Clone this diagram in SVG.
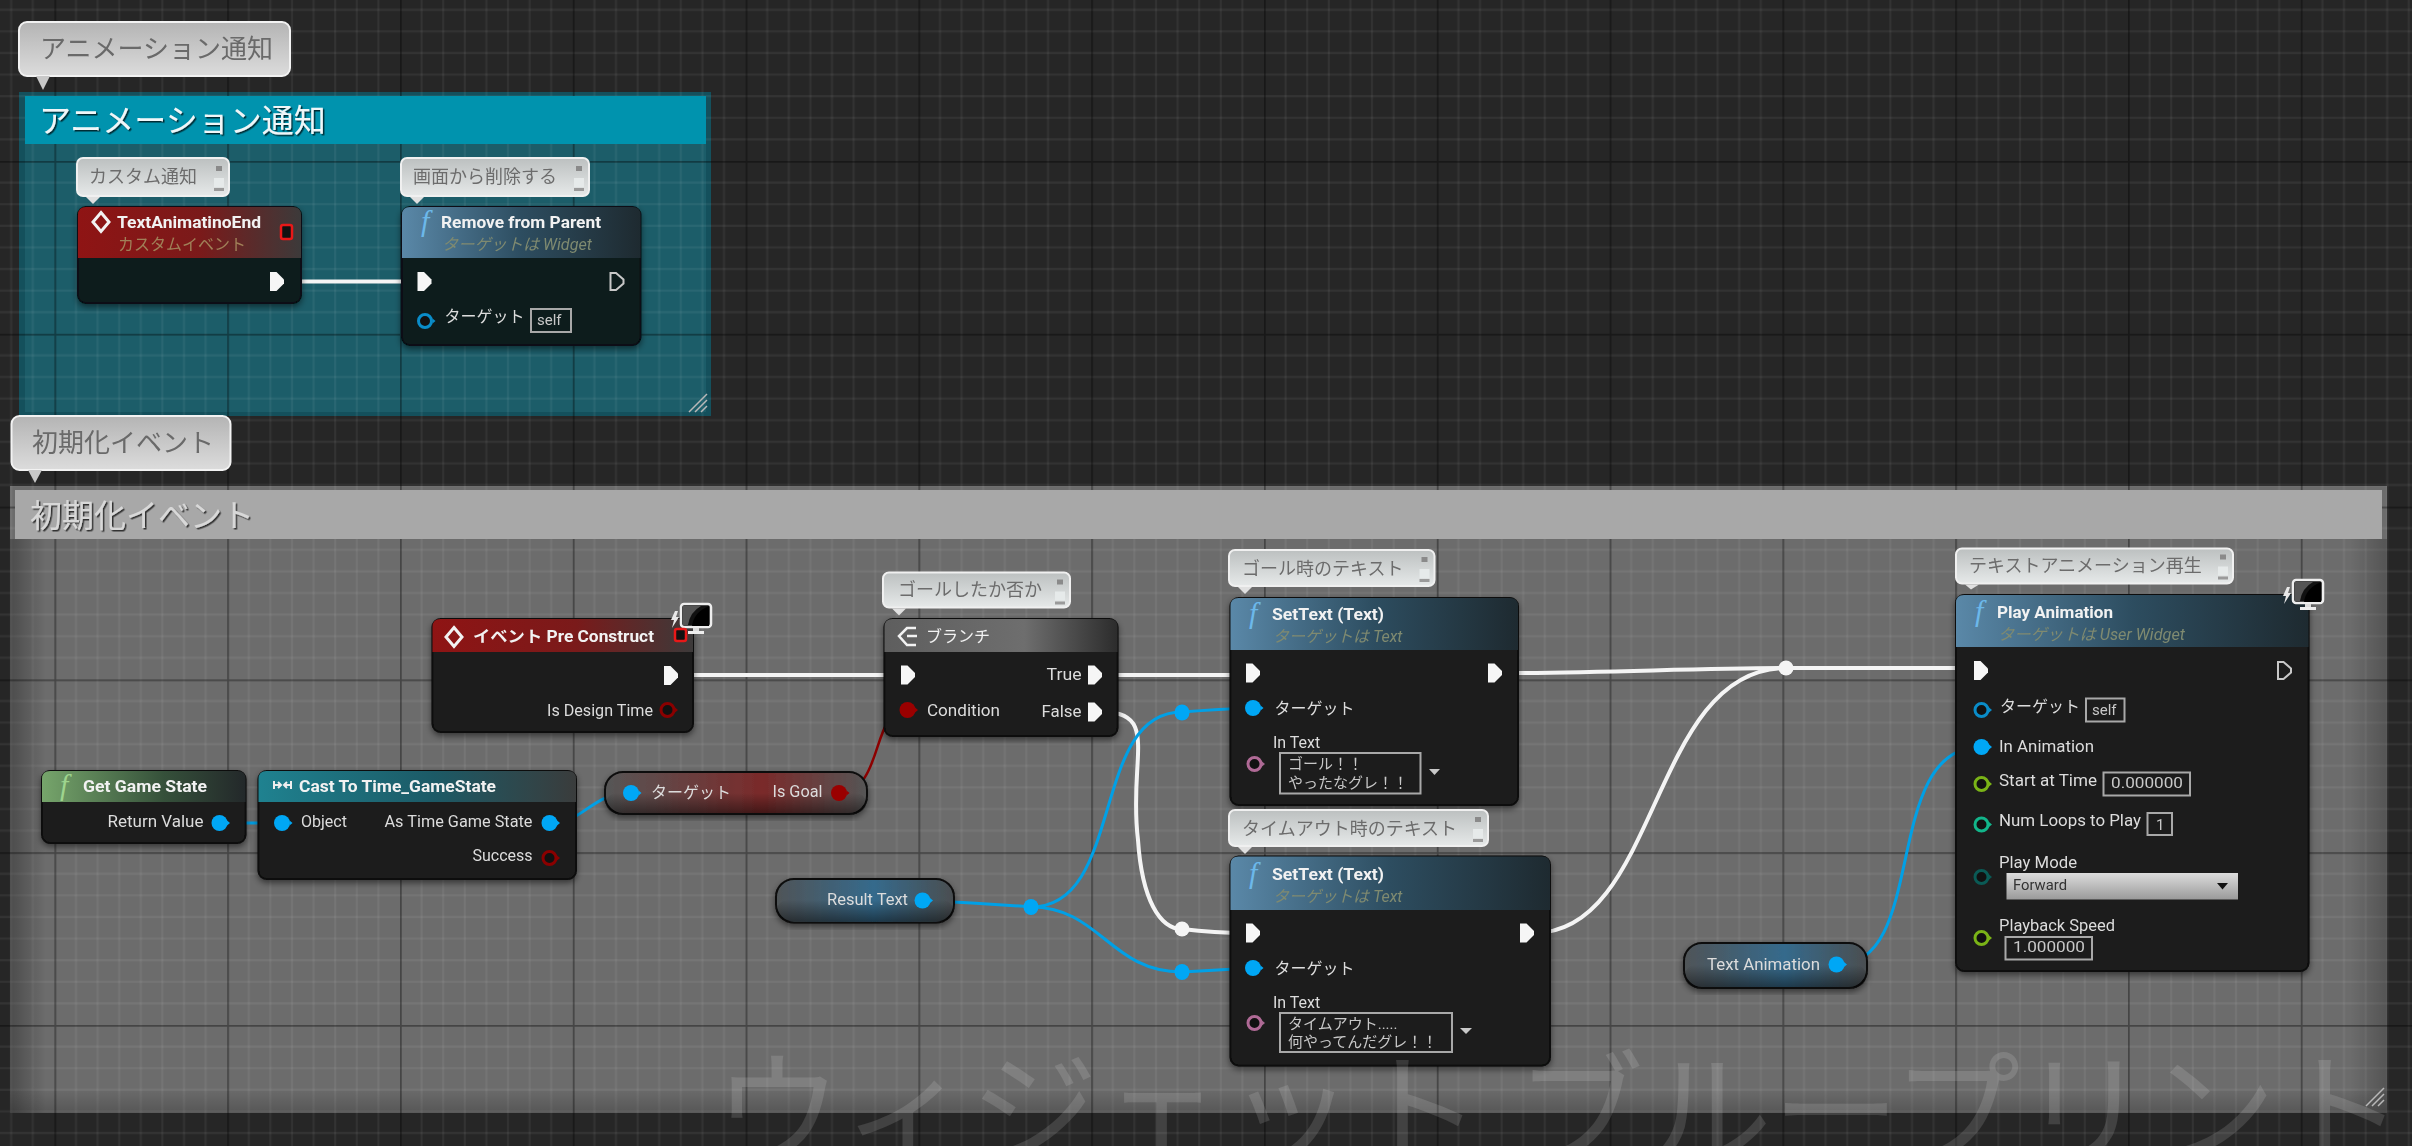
<svg xmlns="http://www.w3.org/2000/svg" width="2412" height="1146" viewBox="0 0 2412 1146">
<style>
text{font-family:"Roboto","Noto Sans CJK JP",sans-serif;white-space:pre}
.t,.s,.sr,.p,.v,.c,.gl{filter:url(#soft)}
.t{font-size:16px;font-weight:700;fill:#f2f2f2}
.s{font-size:16px;font-style:italic;fill:#7f8a70}
.sr{font-size:16px;fill:#a08058}
.p{font-size:16px;fill:#dcdcdc}
.v{font-size:15px;fill:#c8c8c8}
.c{font-size:18px;fill:#6c6c6c;font-family:"Noto Sans CJK JP","Roboto",sans-serif}
.gl{font-size:26px;fill:#6a6a6a;font-family:"Noto Sans CJK JP",sans-serif}
.gh{font-size:32px;font-family:"Noto Sans CJK JP",sans-serif}
.body{fill:#1d1f1d;stroke:#0a0a0a;stroke-width:2;filter:url(#sh)}
.body2{fill:#0f1c1e;stroke:#071012;stroke-width:2;filter:url(#sh)}
.box{fill:none;stroke:#a8a8a8;stroke-width:2}
.bub{fill:url(#gBub);stroke:#f0f0f0;stroke-width:2}
.tail{fill:#e0e0e0}
.ww{fill:none;stroke:#f4f4f4;stroke-width:4;stroke-linecap:round}
.wb{fill:none;stroke:#00a0e6;stroke-width:3;stroke-linecap:round}
.wr{fill:none;stroke:#8c0000;stroke-width:2.5;stroke-linecap:round}
.wm{font-size:128px;fill:#fff;fill-opacity:.13;font-family:"Noto Sans CJK JP",sans-serif}
.knw{fill:#f4f4f4}
.knb{fill:#00a7f5}
.fn{font-size:30px;font-style:italic;font-family:"Liberation Serif",serif;fill:#6cb8ea}
</style>
<defs>
<pattern id="grid" patternUnits="userSpaceOnUse" x="54.4" y="161" width="172.8" height="172.8">
<g stroke="#fff" stroke-opacity=".06" stroke-width="2" fill="none">
<path d="M21.6 0V172.8M43.2 0V172.8M64.8 0V172.8M86.4 0V172.8M108 0V172.8M129.6 0V172.8M151.2 0V172.8"/>
<path d="M0 21.6H172.8M0 43.2H172.8M0 64.8H172.8M0 86.4H172.8M0 108H172.8M0 129.6H172.8M0 151.2H172.8"/>
</g>
<path d="M0 0V172.8M0 0H172.8" stroke="#000" stroke-opacity=".36" stroke-width="3.5" fill="none"/>
</pattern>
<linearGradient id="gBub" x1="0" y1="0" x2="0" y2="1"><stop offset="0" stop-color="#bcc0c0"/><stop offset="1" stop-color="#e6e9e9"/></linearGradient>
<linearGradient id="gLab" x1="0" y1="0" x2="0" y2="1"><stop offset="0" stop-color="#b4b4b4"/><stop offset="1" stop-color="#dcdcdc"/></linearGradient>
<linearGradient id="gRed"><stop offset="0" stop-color="#8f1414"/><stop offset=".55" stop-color="#7a1a1a"/><stop offset="1" stop-color="#3c3a3a"/></linearGradient>
<linearGradient id="gBlue"><stop offset="0" stop-color="#5a88a8"/><stop offset=".5" stop-color="#2d4d60"/><stop offset="1" stop-color="#1e2a30"/></linearGradient>
<linearGradient id="gGreen"><stop offset="0" stop-color="#76a56b"/><stop offset=".6" stop-color="#35503a"/><stop offset="1" stop-color="#23282a"/></linearGradient>
<linearGradient id="gTeal"><stop offset="0" stop-color="#1f8290"/><stop offset=".55" stop-color="#1c5a66"/><stop offset="1" stop-color="#3a3c3c"/></linearGradient>
<linearGradient id="gGrey"><stop offset="0" stop-color="#5e5e5e"/><stop offset=".6" stop-color="#6e6e6e"/><stop offset="1" stop-color="#2c2c2c"/></linearGradient>
<linearGradient id="gPB"><stop offset="0" stop-color="#505457"/><stop offset=".55" stop-color="#356a8c"/><stop offset="1" stop-color="#4a4e50"/></linearGradient>
<linearGradient id="gPR"><stop offset="0" stop-color="#565656"/><stop offset=".6" stop-color="#7a2a2a"/><stop offset="1" stop-color="#555"/></linearGradient>
<linearGradient id="gDk" x1="0" y1="0" x2="0" y2="1"><stop offset="0" stop-color="#000" stop-opacity="0"/><stop offset="1" stop-color="#000" stop-opacity=".45"/></linearGradient>
<linearGradient id="gCombo" x1="0" y1="0" x2="0" y2="1"><stop offset="0" stop-color="#dcdcdc"/><stop offset="1" stop-color="#9a9a9a"/></linearGradient>
<linearGradient id="vL"><stop offset="0" stop-color="#000" stop-opacity=".3"/><stop offset="1" stop-color="#000" stop-opacity="0"/></linearGradient>
<linearGradient id="vR"><stop offset="0" stop-color="#000" stop-opacity="0"/><stop offset="1" stop-color="#000" stop-opacity=".22"/></linearGradient>
<linearGradient id="vB" x1="0" y1="0" x2="0" y2="1"><stop offset="0" stop-color="#000" stop-opacity="0"/><stop offset="1" stop-color="#000" stop-opacity=".2"/></linearGradient>
<filter id="sh" x="-10%" y="-10%" width="120%" height="125%"><feDropShadow dx="0" dy="3" stdDeviation="3" flood-color="#000" flood-opacity=".5"/></filter>
<filter id="ts" x="-5%" y="-5%" width="110%" height="115%"><feDropShadow dx="1.500" dy="1.500" stdDeviation=".5" flood-color="#000" flood-opacity=".7"/></filter>
<filter id="soft" x="-5%" y="-20%" width="110%" height="140%"><feGaussianBlur stdDeviation=".4"/></filter>
<path id="ex" d="M0-9.500H6.500L14-2V2L6.500 9.500H0Z" fill="#f6f6f6"/>
<path id="exH" d="M1-8.500H6.500L14-2V2L6.500 8.500H1Z" fill="none" stroke="#c8c8c8" stroke-width="2"/>
<g id="pf"><circle r="8"/><path d="M7.500 -2.500L10.500 0L7.500 2.500Z"/></g>
<g id="ph"><circle r="6.500" fill="#111" stroke-width="3"/><path d="M7.500 -2.500L10.500 0L7.500 2.500Z" stroke="none"/></g>
<g id="pinic"><rect x="-3" y="0" width="6" height="5" fill="#8a8a8a"/><rect x="-5" y="12" width="10" height="9" fill="#e6eaea"/><rect x="-5" y="22" width="10" height="3" fill="#9a9a9a"/></g>
<g id="mon"><path d="M-12 7 L-16 16 L-13 16 L-15 24 L-8 13 L-11 13 L-9 7Z" fill="#e8e8e8"/><rect x="-6" y="0" width="30" height="23" rx="3" fill="#111" stroke="#eee" stroke-width="2.500"/><path d="M5 22Q7 8 22 2V22Z" fill="#000"/><path d="M-4 2H14Q3 8 1 21H-4Z" fill="#555"/><rect x="6" y="24" width="6" height="3" fill="#ddd"/><rect x="1" y="27" width="16" height="3" fill="#eee"/></g>
<path id="diamond" d="M0-9.500L8 0L0 9.500L-8 0Z" fill="none" stroke="#f2f2f2" stroke-width="3"/>
<path id="hdl" d="M0 18L18 0M6 18L18 6M12 18L18 12" stroke="#b8b8b8" stroke-width="1.500" fill="none"/>
</defs>

<rect id="background" width="2412" height="1146" fill="#262626"/>

<g id="comment-animation-fill">
<rect x="19" y="92" width="692" height="324" fill="#14505c"/>
<rect x="25" y="96" width="681" height="316" fill="#1c5d69"/>
</g>
<rect id="comment-init-fill" x="10" y="486" width="2377" height="627" fill="#6c6c6c"/>
<rect id="grid-overlay" width="2412" height="1146" fill="url(#grid)"/>
<g id="comment-animation">
<rect x="25" y="96" width="681" height="48" fill="#0093ae"/>
<text class="gh" x="39" y="132" fill="#f0f6f8" filter="url(#ts)">アニメーション通知</text>
<use href="#hdl" x="689" y="394"/>
</g>
<g id="comment-init">
<rect x="15" y="490" width="2367" height="49" fill="#a8a8a8"/>
<text class="gh" x="30" y="527" fill="#d8d8d8" filter="url(#ts)">初期化イベント</text>
<rect x="10" y="539" width="36" height="574" fill="url(#vL)"/>
<rect x="2350" y="539" width="37" height="574" fill="url(#vR)"/>
<rect x="10" y="1088" width="2377" height="25" fill="url(#vB)"/>
<use href="#hdl" x="2366" y="1088"/>
</g>

<g id="label-animation">
<rect x="19" y="22" width="271" height="54" rx="8" fill="url(#gLab)" stroke="#f2f2f2" stroke-width="2"/>
<path d="M36 76H50L43 90Z" fill="#c8c8c8"/>
<text class="gl" x="40" y="58">アニメーション通知</text>
</g>
<g id="label-init">
<rect x="11.500" y="416" width="219" height="54" rx="8" fill="url(#gLab)" stroke="#f2f2f2" stroke-width="2"/>
<path d="M28 470H42L35 483Z" fill="#c8c8c8"/>
<text class="gl" x="32" y="452">初期化イベント</text>
</g>

<g id="connectors">
<path class="ww" d="M285 281.500H415"/>
<path class="ww" d="M678 675H901"/>
<path class="ww" d="M1103 675H1246"/>
<path class="ww" d="M1502 673C1600 673 1700 668 1786 668"/>
<path class="ww" d="M1786 668H1974"/>
<path class="ww" d="M1534 933C1660 933 1650 668 1786 668"/>
<path class="ww" d="M1103 712C1160 712 1128 760 1138 840C1142 900 1160 929 1182 929"/>
<path class="ww" d="M1182 929Q1215 933 1246 933"/>
<path class="wb" d="M219 823H282"/>
<path class="wb" d="M550 823C585 823 590 793 631 793"/>
<path class="wr" d="M839 793C885 790 870 710 907 710"/>
<path class="wb" d="M923 900.500Q980 903 1031 907"/>
<path class="wb" d="M1031 907C1125 907 1090 712 1182 712"/>
<path class="wb" d="M1182 712Q1220 709 1253 708"/>
<path class="wb" d="M1031 907C1100 907 1110 972 1182 972"/>
<path class="wb" d="M1182 972Q1220 970 1253 968"/>
<path class="wb" d="M1837 965C1930 965 1880 747 1981 747"/>
<ellipse class="knb" cx="1031" cy="907" rx="7.500" ry="8"/>
<ellipse class="knb" cx="1182" cy="712.500" rx="7.500" ry="8"/>
<ellipse class="knb" cx="1182" cy="972" rx="7.500" ry="8"/>
<circle class="knw" cx="1182" cy="929" r="7.500"/>
<circle class="knw" cx="1786" cy="668" r="7.500"/>
</g>

<g id="node-textanimatinoend">
<g transform="translate(77 158)"><rect width="152" height="38" rx="6" class="bub"/><path d="M9 39H23L16 46Z" class="tail"/><use href="#pinic" x="142" y="8"/></g>
<text class="c" x="89" y="183">カスタム通知</text>
<rect class="body2" x="78" y="207" width="223" height="96" rx="8"/>
<path d="M78 258V215Q78 207 86 207H293Q301 207 301 215V258Z" fill="url(#gRed)"/>
<use href="#diamond" x="101" y="222"/>
<text class="t" x="117" y="228" textLength="144" lengthAdjust="spacingAndGlyphs">TextAnimatinoEnd</text>
<text class="sr" x="118" y="250">カスタムイベント</text>
<rect x="281" y="225" width="11" height="14" rx="2" fill="#111" stroke="#e81818" stroke-width="2.500"/>
<use href="#ex" x="270" y="281.500"/>
</g>

<g id="node-remove-from-parent">
<g transform="translate(401 158)"><rect width="188" height="38" rx="6" class="bub"/><path d="M9 39H23L16 46Z" class="tail"/><use href="#pinic" x="178" y="8"/></g>
<text class="c" x="413" y="183">画面から削除する</text>
<rect class="body2" x="402" y="207" width="238.500" height="138" rx="8"/>
<path d="M402 258V215Q402 207 410 207H632.500Q640.500 207 640.500 215V258Z" fill="url(#gBlue)"/>
<text class="fn" x="421" y="231">f</text>
<text class="t" x="441" y="228" textLength="160" lengthAdjust="spacingAndGlyphs">Remove from Parent</text>
<text class="s" x="442" y="250" textLength="150" lengthAdjust="spacingAndGlyphs">ターゲットは Widget</text>
<use href="#ex" x="417.500" y="281.500"/>
<use href="#exH" x="609.500" y="281.500"/>
<use href="#ph" x="425" y="321" fill="#0a8cc8" stroke="#0a8cc8"/>
<text class="p" x="444.500" y="322">ターゲット</text>
<rect class="box" x="531" y="309" width="40" height="23"/>
<text class="v" x="537" y="325">self</text>
</g>

<g id="node-pre-construct">
<rect class="body" x="432.500" y="619" width="260.500" height="113" rx="8"/>
<path d="M432.500 652V627Q432.500 619 440.500 619H685Q693 619 693 627V652Z" fill="url(#gRed)"/>
<use href="#diamond" x="454" y="637"/>
<text class="t" x="473" y="642" textLength="181" lengthAdjust="spacingAndGlyphs">イベント Pre Construct</text>
<use href="#mon" x="687" y="604"/>
<rect x="675" y="629" width="11" height="12" rx="2" fill="#111" stroke="#e81818" stroke-width="2.500"/>
<use href="#ex" x="664" y="675.500"/>
<text class="p" x="547" y="716" textLength="106" lengthAdjust="spacingAndGlyphs">Is Design Time</text>
<use href="#ph" x="667.500" y="710" fill="#8a0000" stroke="#8a0000"/>
</g>

<g id="node-get-game-state">
<rect class="body" x="42" y="771" width="203.500" height="72" rx="8"/>
<path d="M42 802V779Q42 771 50 771H237.500Q245.500 771 245.500 779V802Z" fill="url(#gGreen)"/>
<text class="fn" x="60" y="795" style="fill:#9ed48e">f</text>
<text class="t" x="83" y="792" textLength="124" lengthAdjust="spacingAndGlyphs">Get Game State</text>
<text class="p" x="107.500" y="827" textLength="96" lengthAdjust="spacingAndGlyphs">Return Value</text>
<use href="#pf" x="219.500" y="823" fill="#00a7f5"/>
</g>

<g id="node-cast">
<rect class="body" x="258.500" y="771" width="317.500" height="108" rx="8"/>
<path d="M258.500 802V779Q258.500 771 266.500 771H568Q576 771 576 779V802Z" fill="url(#gTeal)"/>
<path d="M274 781V789M274 785H281M278 782L281 785L278 788M291 781V789M291 785H284M287 782L284 785L287 788" stroke="#eee" stroke-width="2" fill="none"/>
<text class="t" x="299" y="792" textLength="197" lengthAdjust="spacingAndGlyphs">Cast To Time_GameState</text>
<use href="#pf" x="282" y="823" fill="#00a7f5"/>
<text class="p" x="301" y="827">Object</text>
<text class="p" x="384.500" y="827" textLength="148" lengthAdjust="spacingAndGlyphs">As Time Game State</text>
<use href="#pf" x="549.500" y="823" fill="#00a7f5"/>
<text class="p" x="472.500" y="861" textLength="60" lengthAdjust="spacingAndGlyphs">Success</text>
<use href="#ph" x="549.500" y="858" fill="#8a0000" stroke="#8a0000"/>
</g>

<g id="node-isgoal">
<rect class="body" x="605" y="772" width="262" height="42" rx="18" style="fill:url(#gPR)"/>
<rect x="606" y="793" width="260" height="20" rx="10" fill="url(#gDk)"/>
<use href="#pf" x="631" y="793" fill="#00a7f5"/>
<text class="p" x="651" y="798">ターゲット</text>
<text class="p" x="772.500" y="797" textLength="50" lengthAdjust="spacingAndGlyphs">Is Goal</text>
<use href="#pf" x="839" y="793" fill="#9a0000"/>
</g>

<g id="node-branch">
<g transform="translate(883 572.500)"><rect width="187" height="35" rx="6" class="bub"/><path d="M9 36H23L16 43Z" class="tail"/><use href="#pinic" x="177" y="7"/></g>
<text class="c" x="898" y="595.500">ゴールしたか否か</text>
<rect class="body" x="884.500" y="619" width="233" height="117" rx="8"/>
<path d="M884.500 652V627Q884.500 619 892.500 619H1109.500Q1117.500 619 1117.500 627V652Z" fill="url(#gGrey)"/>
<path d="M916 628H907L899 636L907 645H916M907 636H917" stroke="#f2f2f2" stroke-width="2.500" fill="none"/>
<text class="t" x="926" y="642" style="font-weight:400">ブランチ</text>
<use href="#ex" x="901" y="675"/>
<text class="p" x="1046.500" y="680" textLength="35" lengthAdjust="spacingAndGlyphs">True</text>
<use href="#ex" x="1088" y="675"/>
<use href="#pf" x="907.500" y="710" fill="#9a0000"/>
<text class="p" x="927" y="716" textLength="73" lengthAdjust="spacingAndGlyphs">Condition</text>
<text class="p" x="1041.500" y="717" textLength="40" lengthAdjust="spacingAndGlyphs">False</text>
<use href="#ex" x="1088" y="712"/>
</g>

<g id="node-settext-goal">
<g transform="translate(1229 550)"><rect width="205.500" height="36" rx="6" class="bub"/><path d="M9 37H23L16 44Z" class="tail"/><use href="#pinic" x="195.500" y="7"/></g>
<text class="c" x="1242" y="575">ゴール時のテキスト</text>
<rect class="body" x="1230.500" y="598" width="287.500" height="207" rx="8"/>
<path d="M1230.500 650V606Q1230.500 598 1238.500 598H1510Q1518 598 1518 606V650Z" fill="url(#gBlue)"/>
<text class="fn" x="1249" y="623">f</text>
<text class="t" x="1272" y="620" textLength="112" lengthAdjust="spacingAndGlyphs">SetText (Text)</text>
<text class="s" x="1273" y="642">ターゲットは Text</text>
<use href="#ex" x="1246" y="673"/>
<use href="#ex" x="1488" y="673"/>
<use href="#pf" x="1253" y="708" fill="#00a7f5"/>
<text class="p" x="1274.500" y="714">ターゲット</text>
<text class="p" x="1273" y="748">In Text</text>
<use href="#ph" x="1254.500" y="764" fill="#a86a92" stroke="#b06a96"/>
<rect class="box" x="1280" y="753" width="140.500" height="40.500"/>
<text class="v" x="1288" y="769">ゴール！！</text>
<text class="v" x="1288" y="788">やったなグレ！！</text>
<path d="M1429 769H1440L1434.500 775Z" fill="#c8c8c8"/>
</g>

<g id="node-settext-timeout">
<g transform="translate(1229 810)"><rect width="259" height="36" rx="6" class="bub"/><path d="M9 37H23L16 44Z" class="tail"/><use href="#pinic" x="249" y="7"/></g>
<text class="c" x="1242" y="835">タイムアウト時のテキスト</text>
<rect class="body" x="1230.500" y="856.500" width="319.500" height="209" rx="8"/>
<path d="M1230.500 910V864.500Q1230.500 856.500 1238.500 856.500H1542Q1550 856.500 1550 864.500V910Z" fill="url(#gBlue)"/>
<text class="fn" x="1249" y="883">f</text>
<text class="t" x="1272" y="880" textLength="112" lengthAdjust="spacingAndGlyphs">SetText (Text)</text>
<text class="s" x="1273" y="902">ターゲットは Text</text>
<use href="#ex" x="1246" y="933"/>
<use href="#ex" x="1520" y="933"/>
<use href="#pf" x="1253" y="968" fill="#00a7f5"/>
<text class="p" x="1274.500" y="974">ターゲット</text>
<text class="p" x="1273" y="1008">In Text</text>
<use href="#ph" x="1254.500" y="1023" fill="#a86a92" stroke="#b06a96"/>
<rect class="box" x="1280" y="1013" width="172" height="39"/>
<text class="v" x="1288" y="1029">タイムアウト.....</text>
<text class="v" x="1288" y="1047">何やってんだグレ！！</text>
<path d="M1460 1028H1472L1466 1034Z" fill="#c8c8c8"/>
</g>

<g id="node-result-text">
<rect class="body" x="776" y="879" width="178" height="43.500" rx="18" style="fill:url(#gPB)"/>
<rect x="777" y="900" width="176" height="21" rx="10" fill="url(#gDk)"/>
<text class="p" x="827" y="905" textLength="81" lengthAdjust="spacingAndGlyphs">Result Text</text>
<use href="#pf" x="922.500" y="900.500" fill="#00a7f5"/>
</g>

<g id="node-text-animation">
<rect class="body" x="1684" y="943" width="183" height="45" rx="18" style="fill:url(#gPB)"/>
<rect x="1685" y="965" width="181" height="22" rx="10" fill="url(#gDk)"/>
<text class="p" x="1707" y="970" textLength="113" lengthAdjust="spacingAndGlyphs">Text Animation</text>
<use href="#pf" x="1836.500" y="964.500" fill="#00a7f5"/>
</g>

<g id="node-play-animation">
<g transform="translate(1956 548.500)"><rect width="277" height="35" rx="6" class="bub"/><path d="M9 36H23L15 41Z" class="tail"/><use href="#pinic" x="267" y="6"/></g>
<text class="c" x="1969" y="572">テキストアニメーション再生</text>
<rect class="body" x="1956" y="595" width="352.500" height="376" rx="8"/>
<path d="M1956 647V603Q1956 595 1964 595H2300.500Q2308.500 595 2308.500 603V647Z" fill="url(#gBlue)"/>
<use href="#mon" x="2299" y="580"/>
<text class="fn" x="1975" y="621">f</text>
<text class="t" x="1997" y="618" textLength="116" lengthAdjust="spacingAndGlyphs">Play Animation</text>
<text class="s" x="1998" y="640" textLength="187" lengthAdjust="spacingAndGlyphs">ターゲットは User Widget</text>
<use href="#ex" x="1974" y="670.500"/>
<use href="#exH" x="2277" y="670.500"/>
<use href="#ph" x="1981.500" y="710" fill="#0a8cc8" stroke="#0a8cc8"/>
<text class="p" x="2000" y="712">ターゲット</text>
<rect class="box" x="2086" y="698.500" width="38.500" height="23"/>
<text class="v" x="2092" y="715">self</text>
<use href="#pf" x="1981.500" y="747" fill="#00a7f5"/>
<text class="p" x="1999" y="752" textLength="95" lengthAdjust="spacingAndGlyphs">In Animation</text>
<use href="#ph" x="1981.500" y="784" fill="#7ab317" stroke="#7ab317"/>
<text class="p" x="1999" y="786" textLength="98" lengthAdjust="spacingAndGlyphs">Start at Time</text>
<rect class="box" x="2103.500" y="772.500" width="86.500" height="23"/>
<text class="v" x="2111" y="788" textLength="72" lengthAdjust="spacingAndGlyphs">0.000000</text>
<use href="#ph" x="1981.500" y="824.500" fill="#12b58a" stroke="#12b58a"/>
<text class="p" x="1999" y="826" textLength="142" lengthAdjust="spacingAndGlyphs">Num Loops to Play</text>
<rect class="box" x="2147.500" y="813" width="24.500" height="22"/>
<text class="v" x="2156" y="830">1</text>
<use href="#ph" x="1981.500" y="877" fill="#0a5a55" stroke="#0a5a55"/>
<text class="p" x="1999" y="868" textLength="78" lengthAdjust="spacingAndGlyphs">Play Mode</text>
<rect x="2006.500" y="873" width="231.500" height="26.500" fill="url(#gCombo)"/>
<text class="v" x="2013" y="890" style="fill:#333" textLength="54" lengthAdjust="spacingAndGlyphs">Forward</text>
<path d="M2217 883H2228L2222.500 889.500Z" fill="#111"/>
<use href="#ph" x="1981.500" y="938" fill="#7ab317" stroke="#7ab317"/>
<text class="p" x="1999" y="931" textLength="116" lengthAdjust="spacingAndGlyphs">Playback Speed</text>
<rect class="box" x="2005.500" y="937" width="86.500" height="22.500"/>
<text class="v" x="2013" y="952" textLength="72" lengthAdjust="spacingAndGlyphs">1.000000</text>
</g>

<text id="watermark" class="wm" y="1159"><tspan x="714">ウィジェット</tspan><tspan x="1516">ブループリント</tspan></text>
</svg>
